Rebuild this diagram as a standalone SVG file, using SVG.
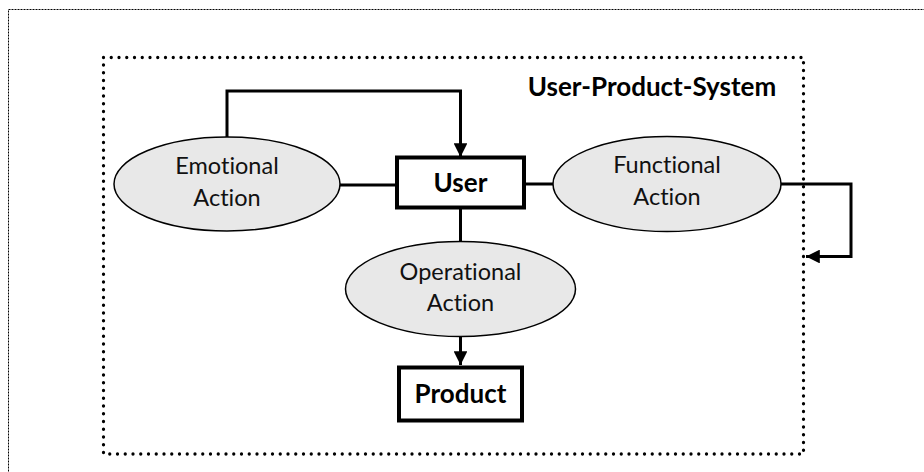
<svg xmlns="http://www.w3.org/2000/svg" width="924" height="472" viewBox="0 0 924 472">
  <style>
    .frame { fill: none; stroke: #000; stroke-width: 1; stroke-dasharray: 2 1; }
    .system { fill: none; stroke: #000; stroke-width: 3.3; stroke-linecap: round; stroke-dasharray: 0 7.75; }
    .box { fill: #fff; stroke: #000; stroke-width: 4; }
    .action { fill: #e8e8e8; stroke: #000; stroke-width: 1.5; }
    .link { fill: none; stroke: #000; stroke-width: 3; }
    .lbl { font-family: Lato, "Open Sans", "Liberation Sans", sans-serif; font-size: 23.5px; fill: #111; text-anchor: middle; font-variant-ligatures: none; }
    .bold { font-weight: bold; font-size: 26px; fill: #000; }
  </style>
  <defs>
    <marker id="arrow" viewBox="0 0 10 10" refX="10" refY="5" markerWidth="4.6" markerHeight="4.6" orient="auto" markerUnits="strokeWidth">
      <path d="M0,0 L10,5 L0,10 Z" fill="#000"/>
    </marker>
  </defs>

  <rect width="924" height="472" fill="#fff"/>
  <!-- page frame -->
  <rect class="frame" x="8.5" y="9.5" width="930" height="480"/>

  <!-- system boundary -->
  <g id="system">
    <rect class="system" x="103.5" y="57.5" width="700" height="396.5"/>
    <text class="lbl bold" x="652" y="96">User-Product-System</text>
  </g>

  <!-- connectors -->
  <g id="connectors">
    <polyline class="link" points="227,137 227,91 460.5,91 460.5,157" marker-end="url(#arrow)"/>
    <line class="link" x1="340" y1="185" x2="397" y2="185"/>
    <line class="link" x1="524" y1="184" x2="553" y2="184"/>
    <polyline class="link" points="781,184 851,184 851,256.5 806,256.5" marker-end="url(#arrow)"/>
    <line class="link" x1="460.5" y1="208" x2="460.5" y2="242"/>
    <line class="link" x1="460.5" y1="336" x2="460.5" y2="365" marker-end="url(#arrow)"/>
  </g>

  <g id="emotional">
    <ellipse class="action" cx="227" cy="184" rx="113" ry="47"/>
    <text class="lbl" x="227" y="174">Emotional</text>
    <text class="lbl" x="227" y="206">Action</text>
  </g>

  <g id="user">
    <rect class="box" x="397" y="157.5" width="127" height="50"/>
    <text class="lbl bold" x="460.5" y="192">User</text>
  </g>

  <g id="functional">
    <ellipse class="action" cx="667" cy="184" rx="114" ry="47.5"/>
    <text class="lbl" x="667" y="173">Functional</text>
    <text class="lbl" x="667" y="205">Action</text>
  </g>

  <g id="operational">
    <ellipse class="action" cx="460.5" cy="289" rx="115" ry="47.5"/>
    <text class="lbl" x="460.5" y="280">Operational</text>
    <text class="lbl" x="460.5" y="311">Action</text>
  </g>

  <g id="product">
    <rect class="box" x="399" y="367.5" width="123" height="53"/>
    <text class="lbl bold" x="460.5" y="403">Product</text>
  </g>
</svg>
